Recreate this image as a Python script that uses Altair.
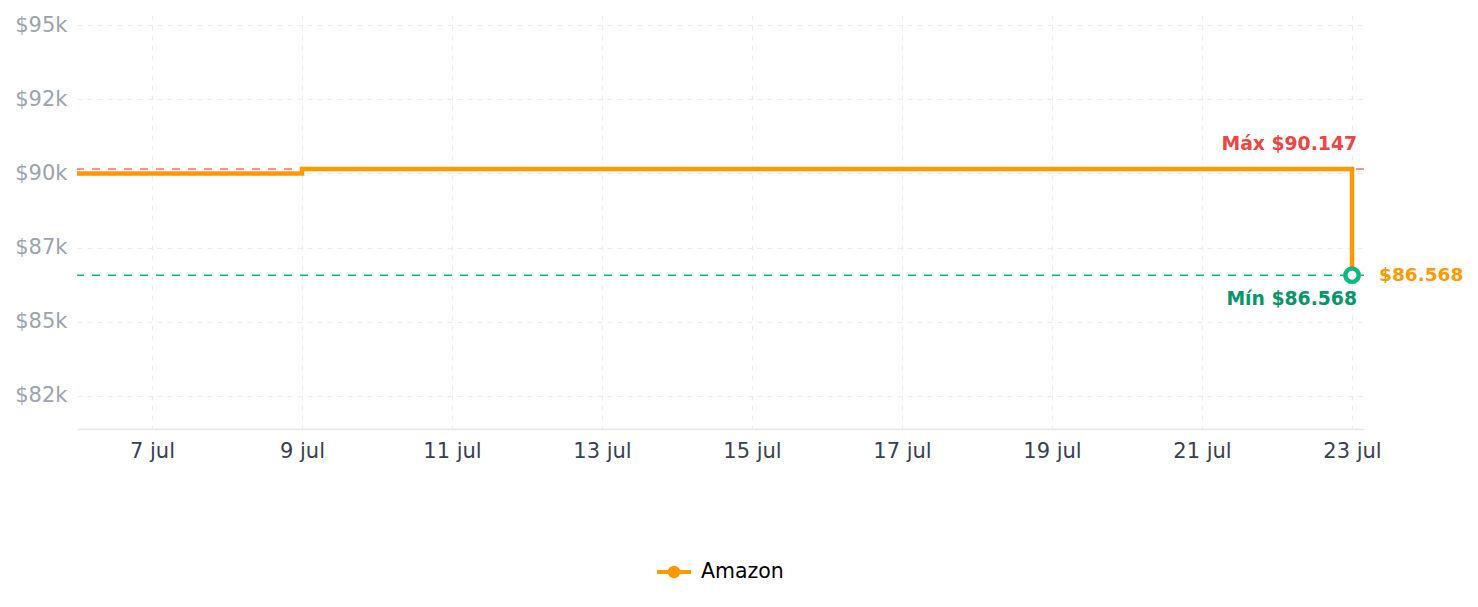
import altair as alt
import pandas as pd

# ---- data ----
dates = ["2025-07-06", "2025-07-07", "2025-07-08", "2025-07-09", "2025-07-10",
         "2025-07-11", "2025-07-12", "2025-07-13", "2025-07-14", "2025-07-15",
         "2025-07-16", "2025-07-17", "2025-07-18", "2025-07-19", "2025-07-20",
         "2025-07-21", "2025-07-22", "2025-07-23"]
prices = [89999, 89999, 89999, 90147, 90147,
          90147, 90147, 90147, 90147, 90147,
          90147, 90147, 90147, 90147, 90147,
          90147, 90147, 86568]
store = "Amazon"
tick_days = [7, 9, 11, 13, 15, 17, 19, 21, 23]
y_ticks = [82500, 85000, 87500, 90000, 92500, 95000]

ORANGE = "#ff9900"
RED = "#ef4444"
GREEN_TXT = "#059669"
GREEN = "#10b981"
FONT = "DejaVu Sans"

def fmt(v):
    return "$" + f"{v:,}".replace(",", ".")

df = pd.DataFrame({"date": dates, "price": prices, "store": [store] * len(dates)})
max_p = max(prices)
min_p = min(prices)
last = df.iloc[[-1]].copy()
last["label"] = fmt(int(last["price"].iloc[0]))
ann = pd.DataFrame({
    "date": [dates[-1], dates[-1]],
    "price": [max_p, min_p],
    "label": ["Máx " + fmt(max_p), "Mín " + fmt(min_p)],
})

W, H = 1287, 414
x_scale = alt.Scale(
    type="utc",
    domain=[alt.DateTime(year=2025, month=7, date=6, utc=True),
            alt.DateTime(year=2025, month=7, date=23, hours=3, minutes=50, utc=True)],
)
y_scale = alt.Scale(domain=[81385, 95338], zero=False, nice=False)

x_enc = alt.X(
    "date:T", scale=x_scale, title=None,
    axis=alt.Axis(
        values=[alt.DateTime(year=2025, month=7, date=d, utc=True) for d in tick_days],
        labelExpr="utcFormat(datum.value, '%-d') + ' jul'",
        grid=True, gridDash=[5, 5], gridColor="#ececec", gridWidth=1,
        ticks=False, domain=True, domainColor="#e5e7eb", domainWidth=1.5,
        labelColor="#374151", labelFontSize=21, labelPadding=11, labelFont=FONT,
    ),
)
y_enc = alt.Y(
    "price:Q", scale=y_scale, title=None,
    axis=alt.Axis(
        values=y_ticks,
        labelExpr="'$' + floor(datum.value / 1000) + 'k'",
        grid=True, gridDash=[5, 5], gridColor="#ececec", gridWidth=1,
        ticks=False, domain=False,
        labelColor="#9ca3af", labelFontSize=21, labelPadding=10, labelFont=FONT,
    ),
)

base = alt.Chart(df)

max_rule = alt.Chart(pd.DataFrame({"price": [max_p]})).mark_rule(
    color="#f87171", strokeDash=[8, 8], strokeWidth=1.5
).encode(y=alt.Y("price:Q", scale=y_scale))

min_rule = alt.Chart(pd.DataFrame({"price": [min_p]})).mark_rule(
    color=GREEN, strokeDash=[8, 8], strokeWidth=1.5
).encode(y=alt.Y("price:Q", scale=y_scale))

legend_path = ("M-1,0L1,0M-0.25,0A0.25,0.25,0,1,1,0.25,0"
               "A0.25,0.25,0,1,1,-0.25,0Z")

line = base.mark_line(interpolate="step-after", strokeWidth=4.5).encode(
    x=x_enc, y=y_enc,
    color=alt.Color(
        "store:N",
        scale=alt.Scale(domain=[store], range=[ORANGE]),
        legend=alt.Legend(
            title=None, orient="none", legendX=578, legendY=538,
            symbolType=legend_path, symbolSize=1156,
            symbolStrokeWidth=4, symbolFillColor=ORANGE, symbolStrokeColor=ORANGE,
            labelFontSize=20.5, labelFont=FONT, labelColor="#000000", labelOffset=8,
        ),
    ),
)

marker = alt.Chart(last).mark_point(
    shape="circle", size=180, strokeWidth=4.5, stroke=GREEN, fill="white",
    filled=False, opacity=1, fillOpacity=1,
).encode(x=alt.X("date:T", scale=x_scale), y=alt.Y("price:Q", scale=y_scale))

last_label = alt.Chart(last).mark_text(
    align="left", baseline="middle", dx=27, fontSize=18.5, fontWeight="bold",
    color=ORANGE, font=FONT,
).encode(x=alt.X("date:T", scale=x_scale), y=alt.Y("price:Q", scale=y_scale),
         text="label:N")

max_label = alt.Chart(ann.iloc[[0]]).mark_text(
    align="right", baseline="middle", dx=5, dy=-25, fontSize=18.8, fontWeight="bold",
    color=RED, font=FONT,
).encode(x=alt.X("date:T", scale=x_scale), y=alt.Y("price:Q", scale=y_scale),
         text="label:N")

min_label = alt.Chart(ann.iloc[[1]]).mark_text(
    align="right", baseline="middle", dx=5, dy=24, fontSize=18.8, fontWeight="bold",
    color=GREEN_TXT, font=FONT,
).encode(x=alt.X("date:T", scale=x_scale), y=alt.Y("price:Q", scale=y_scale),
         text="label:N")

chart = alt.layer(
    max_rule, min_rule, line, marker, last_label, max_label, min_label
).properties(
    width=W, height=H,
    autosize=alt.AutoSizeParams(type="none"),
    padding={"left": 77, "top": 15, "right": 114, "bottom": 178},
    background="white",
).configure(font=FONT).configure_view(strokeWidth=0, stroke="transparent")

chart.save("out.html", embed_options={"renderer": "svg", "actions": False})
